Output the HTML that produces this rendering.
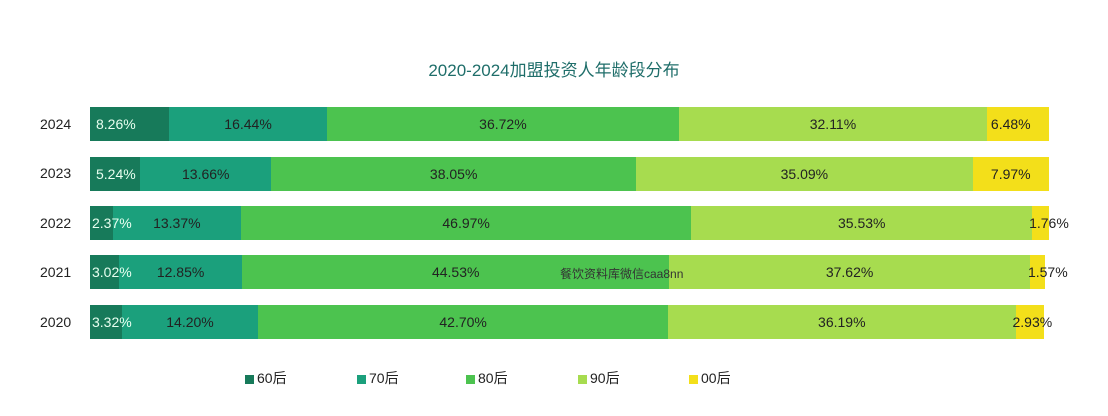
<!DOCTYPE html>
<html><head><meta charset="utf-8"><style>
body{margin:0;width:1108px;height:416px;background:#fff;position:relative;overflow:hidden;font-family:"Liberation Sans","Noto Sans CJK SC",sans-serif;}
.t{position:absolute;top:56px;left:0;width:1108px;text-align:center;font-size:17px;color:#1f6e6a;}
.y{position:absolute;left:40px;font-size:14px;color:#222;}
.bar{position:absolute;left:90px;height:34px;display:flex;}
.s{height:100%;position:relative;font-size:14px;color:#222;line-height:34px;text-align:center;white-space:nowrap;flex-shrink:0}
.s span{position:absolute;left:50%;transform:translateX(-50%);z-index:5}
.a{background:#177a5a;color:#e8fff0}.a span{left:6px;transform:none}
.b{background:#1ba07c}.c{background:#4cc34f}.d{background:#a7dc4f}.e{background:#f3df1a}
.e span{left:4px;transform:none}
.lg{position:absolute;top:368px;font-size:14px;color:#222;}
.lg i{display:inline-block;width:9px;height:9px;margin-right:3px;vertical-align:-1px}
.wm{position:absolute;left:560px;top:265px;font-size:12px;color:#333;z-index:6}
</style></head><body>
<div class="t">2020-2024加盟投资人年龄段分布</div>
<div class="y" style="top:116px">2024</div>
<div class="y" style="top:165px">2023</div>
<div class="y" style="top:215px">2022</div>
<div class="y" style="top:264px">2021</div>
<div class="y" style="top:314px">2020</div>

<div class="bar" style="top:107px;width:959px">
<div class="s a" style="width:8.26%"><span>8.26%</span></div><div class="s b" style="width:16.44%"><span>16.44%</span></div><div class="s c" style="width:36.72%"><span>36.72%</span></div><div class="s d" style="width:32.11%"><span>32.11%</span></div><div class="s e" style="width:6.47%"><span>6.48%</span></div></div>
<div class="bar" style="top:157px;width:959px">
<div class="s a" style="width:5.24%"><span>5.24%</span></div><div class="s b" style="width:13.66%"><span>13.66%</span></div><div class="s c" style="width:38.05%"><span>38.05%</span></div><div class="s d" style="width:35.09%"><span>35.09%</span></div><div class="s e" style="width:7.96%"><span style="left:50%;transform:translateX(-50%)">7.97%</span></div></div>
<div class="bar" style="top:206px;width:959px">
<div class="s a" style="width:2.37%"><span style="left:2px">2.37%</span></div><div class="s b" style="width:13.37%"><span>13.37%</span></div><div class="s c" style="width:46.97%"><span>46.97%</span></div><div class="s d" style="width:35.53%"><span>35.53%</span></div><div class="s e" style="width:1.76%"><span style="left:-3px">1.76%</span></div></div>
<div class="bar" style="top:255px;width:959px">
<div class="s a" style="width:3.02%"><span style="left:2px">3.02%</span></div><div class="s b" style="width:12.85%"><span>12.85%</span></div><div class="s c" style="width:44.53%"><span>44.53%</span></div><div class="s d" style="width:37.62%"><span>37.62%</span></div><div class="s e" style="width:1.57%"><span style="left:-2px">1.57%</span></div></div>
<div class="bar" style="top:305px;width:960px">
<div class="s a" style="width:3.32%"><span style="left:2px">3.32%</span></div><div class="s b" style="width:14.20%"><span>14.20%</span></div><div class="s c" style="width:42.70%"><span>42.70%</span></div><div class="s d" style="width:36.19%"><span>36.19%</span></div><div class="s e" style="width:2.93%"><span style="left:-3px">2.93%</span></div></div>
<div class="wm">餐饮资料库微信caa8nn</div>

<div class="lg" style="left:245px"><i style="background:#177a5a"></i>60后</div>
<div class="lg" style="left:357px"><i style="background:#1ba07c"></i>70后</div>
<div class="lg" style="left:466px"><i style="background:#4cc34f"></i>80后</div>
<div class="lg" style="left:578px"><i style="background:#a7dc4f"></i>90后</div>
<div class="lg" style="left:689px"><i style="background:#f3df1a"></i>00后</div>
</body></html>
